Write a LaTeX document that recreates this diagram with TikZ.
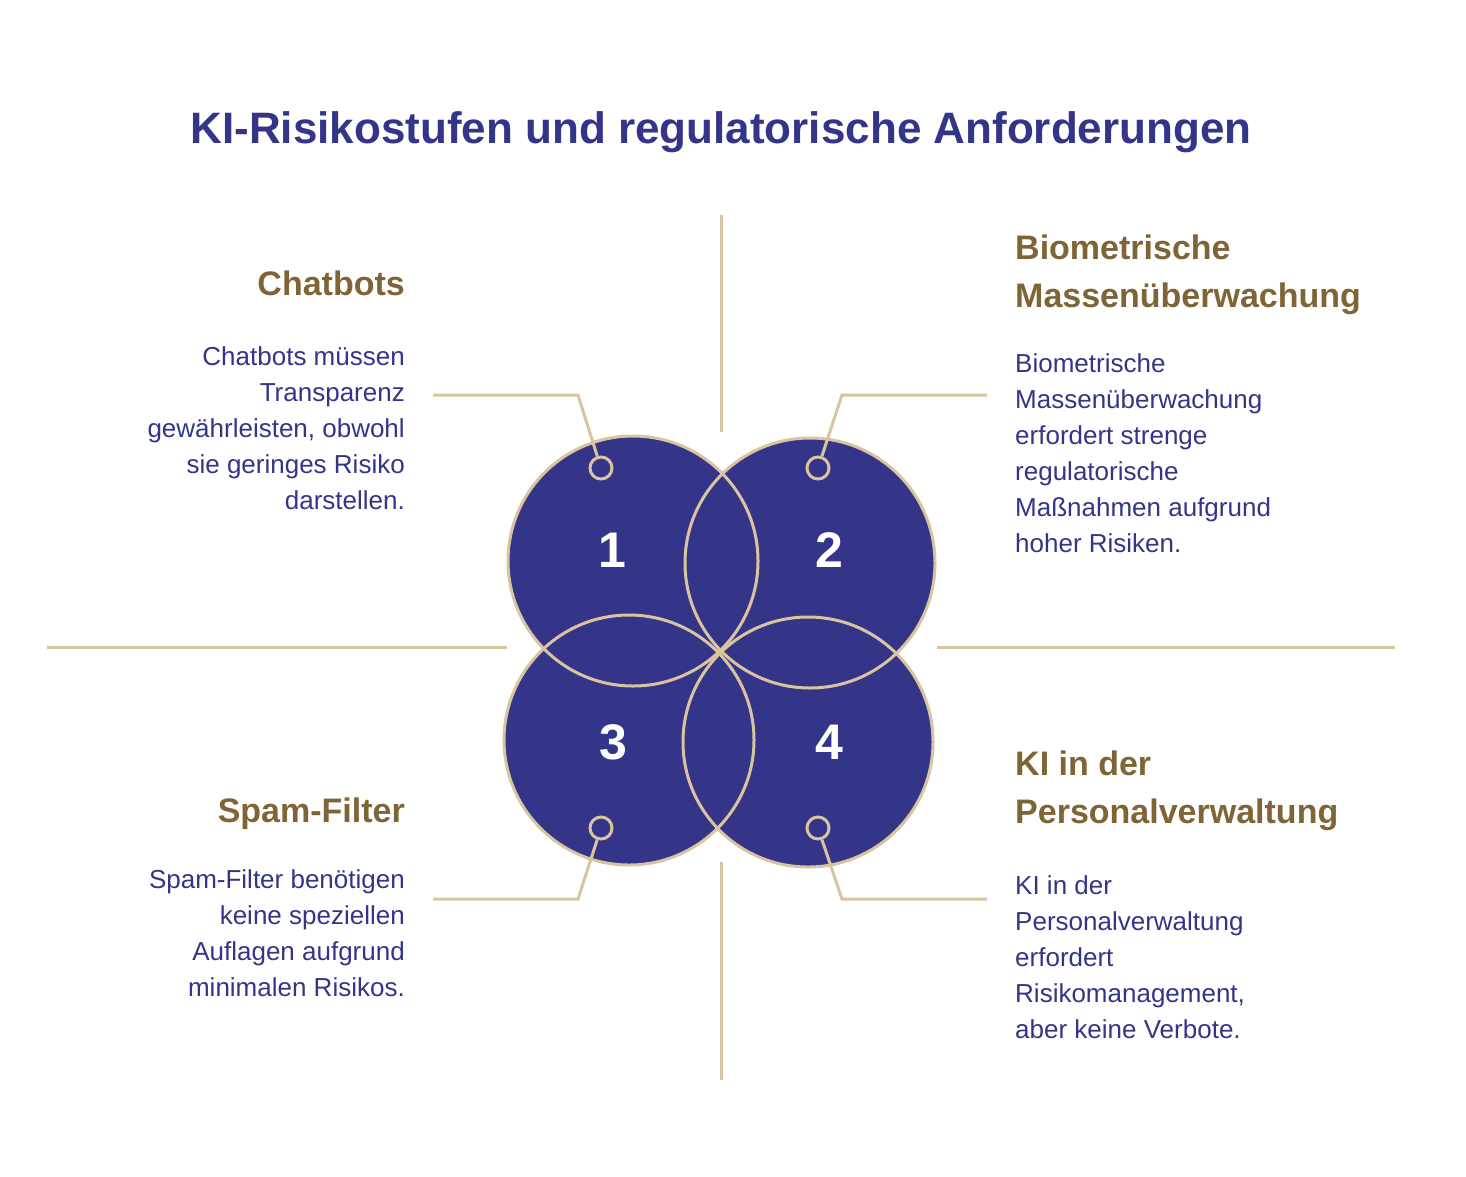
\documentclass[tikz,border=0pt]{standalone}
\usepackage{fontspec}
\setmainfont{Liberation Sans}
\definecolor{navy}{HTML}{343589}
\definecolor{tan}{HTML}{D9C4A0}
\definecolor{brown}{HTML}{7F6535}
\begin{document}
\begin{tikzpicture}[x=1pt,y=-1pt,
  big/.style={circle,minimum size=250pt,inner sep=0pt},
  dot/.style={circle,draw=tan,line width=3pt,fill=navy,minimum size=22pt,inner sep=0pt},
  num/.style={text=white,font=\fontsize{50}{50}\selectfont\bfseries},
  conn/.style={draw=tan,line width=3pt},
  head/.style={text=brown,font=\fontsize{34}{48}\selectfont\bfseries,inner sep=0pt},
  body/.style={text=navy,font=\fontsize{26}{36}\selectfont,inner sep=0pt}]
\path[use as bounding box] (0,0) rectangle (1466,1176);
\fill[white] (0,0) rectangle (1466,1176);
% dividers
\coordinate (v1) at (721,215); \coordinate (v2) at (721,432);
\coordinate (v3) at (721,862); \coordinate (v4) at (721,1080);
\coordinate (h1) at (47,647); \coordinate (h2) at (507,647);
\coordinate (h3) at (937,647); \coordinate (h4) at (1395,647);
\draw[conn] (v1)--(v2); \draw[conn] (v3)--(v4);
\draw[conn] (h1)--(h2); \draw[conn] (h3)--(h4);
% circles
\node[big,fill=navy] (c3) at (629,740) {};
\node[big,fill=navy] (c1) at (633,561) {};
\node[big,fill=navy] (c2) at (810,563) {};
\node[big,fill=navy] (c4) at (808,742) {};
\foreach \c in {c1,c2,c3,c4} \draw[tan,line width=3pt] (\c.center) circle (125pt);
\node[num] (n1) at (612,550) {1};
\node[num] (n2) at (829,550) {2};
\node[num] (n3) at (613,742) {3};
\node[num] (n4) at (829,742) {4};
% connectors
\coordinate (k1) at (578,395); \coordinate (e1) at (433,395);
\coordinate (k2) at (842,395); \coordinate (e2) at (987,395);
\coordinate (k3) at (578,899); \coordinate (e3) at (433,899);
\coordinate (k4) at (842,899); \coordinate (e4) at (987,899);
\node[dot] (d1) at (601,468) {};
\node[dot] (d2) at (818,468) {};
\node[dot] (d3) at (601,828) {};
\node[dot] (d4) at (818,828) {};
\draw[conn] (d1)--(k1)--(e1);
\draw[conn] (d2)--(k2)--(e2);
\draw[conn] (d3)--(k3)--(e3);
\draw[conn] (d4)--(k4)--(e4);
% title
\node[text=navy,font=\fontsize{44}{50}\selectfont\bfseries] (title) at (721,132) {KI-Risikostufen und regulatorische Anforderungen};
% texts
\node[head,anchor=north east,align=right] (t1) at (405,271) {Chatbots};
\node[body,anchor=north east,align=right] (b1) at (405,346) {Chatbots müssen\\Transparenz\\gewährleisten, obwohl\\sie geringes Risiko\\darstellen.};
\node[head,anchor=north west,align=left] (t2) at (1015,235) {Biometrische\\Massenüberwachung};
\node[body,anchor=north west,align=left] (b2) at (1015,353) {Biometrische\\Massenüberwachung\\erfordert strenge\\regulatorische\\Maßnahmen aufgrund\\hoher Risiken.};
\node[head,anchor=north east,align=right] (t3) at (405,798) {Spam-Filter};
\node[body,anchor=north east,align=right] (b3) at (405,869) {Spam-Filter benötigen\\keine speziellen\\Auflagen aufgrund\\minimalen Risikos.};
\node[head,anchor=north west,align=left] (t4) at (1015,751) {KI in der\\Personalverwaltung};
\node[body,anchor=north west,align=left] (b4) at (1015,875) {KI in der\\Personalverwaltung\\erfordert\\Risikomanagement,\\aber keine Verbote.};
\end{tikzpicture}
\end{document}
